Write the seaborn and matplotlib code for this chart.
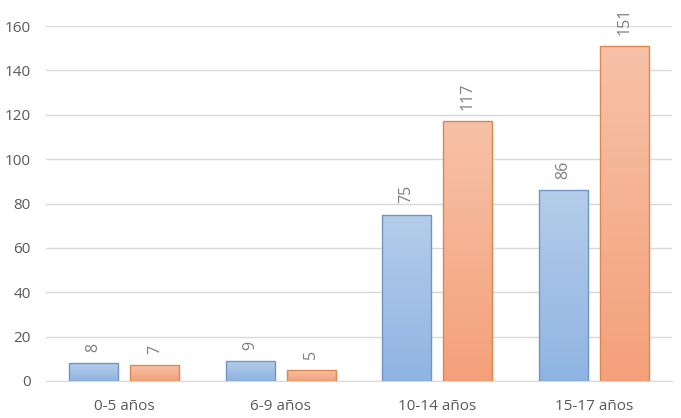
import numpy as np
import pandas as pd
import seaborn as sns
import matplotlib.pyplot as plt
from matplotlib.colors import LinearSegmentedColormap

# Data
categories = ["0-5 años", "6-9 años", "10-14 años", "15-17 años"]
serie_a = [8, 9, 75, 86]
serie_b = [7, 5, 117, 151]
series_names = ["A", "B"]

df = pd.DataFrame({
    "grupo": categories * 2,
    "valor": serie_a + serie_b,
    "serie": [series_names[0]] * 4 + [series_names[1]] * 4,
})

sns.set_style("white")
plt.rcParams['font.family'] = ['Open Sans', 'DejaVu Sans']

fig = plt.figure(figsize=(6.81, 4.18), dpi=100)
ax = fig.add_axes([46 / 681, 1 - 381 / 418, 626 / 681, 355 / 418])

sns.barplot(data=df, x="grupo", y="valor", hue="serie", ax=ax,
            palette=["#9DBDE5", "#F5B08F"], width=0.78, legend=False,
            saturation=1, gap=0.2)

ax.set_ylim(0, 160)
ax.set_yticks(range(0, 161, 20))
ax.yaxis.grid(True, color="#D9D9D9", linewidth=1)
ax.set_axisbelow(True)
for s in ["top", "right", "left"]:
    ax.spines[s].set_visible(False)
ax.spines["bottom"].set_color("#D9D9D9")
ax.set_xlabel("")
ax.set_ylabel("")
ax.tick_params(axis="both", length=0, labelsize=11, labelcolor="#595959")
ax.tick_params(axis="y", pad=11)
ax.tick_params(axis="x", pad=13)

# gradient fills and outlines
grads = {
    0: (["#8FB4E2", "#B5CDEA"], "#6F96C4"),
    1: (["#F4A07A", "#F7C2A8"], "#DE8650"),
}
for i, cont in enumerate(ax.containers):
    colors, edge = grads[i]
    cmap = LinearSegmentedColormap.from_list("g%d" % i, colors)
    for bar in cont:
        x0, y0 = bar.get_x(), bar.get_y()
        w, h = bar.get_width(), bar.get_height()
        bar.set_edgecolor(edge)
        bar.set_linewidth(1)
        im = ax.imshow(np.linspace(0, 1, 256).reshape(-1, 1), cmap=cmap,
                       origin="lower", aspect="auto",
                       extent=[x0, x0 + w, y0, y0 + h], zorder=bar.get_zorder())
        im.set_clip_path(bar)
        bar.set_facecolor("none")
        bar.set_zorder(bar.get_zorder() + 0.1)
    ax.bar_label(cont, labels=[str(int(v)) for v in cont.datavalues],
                 rotation=90, padding=8, fontsize=11.5, color="#7F7F7F")

ax.set_xlim(-0.5, 3.5)
ax.set_ylim(0, 160)

fig.savefig("out.png", dpi=100)
